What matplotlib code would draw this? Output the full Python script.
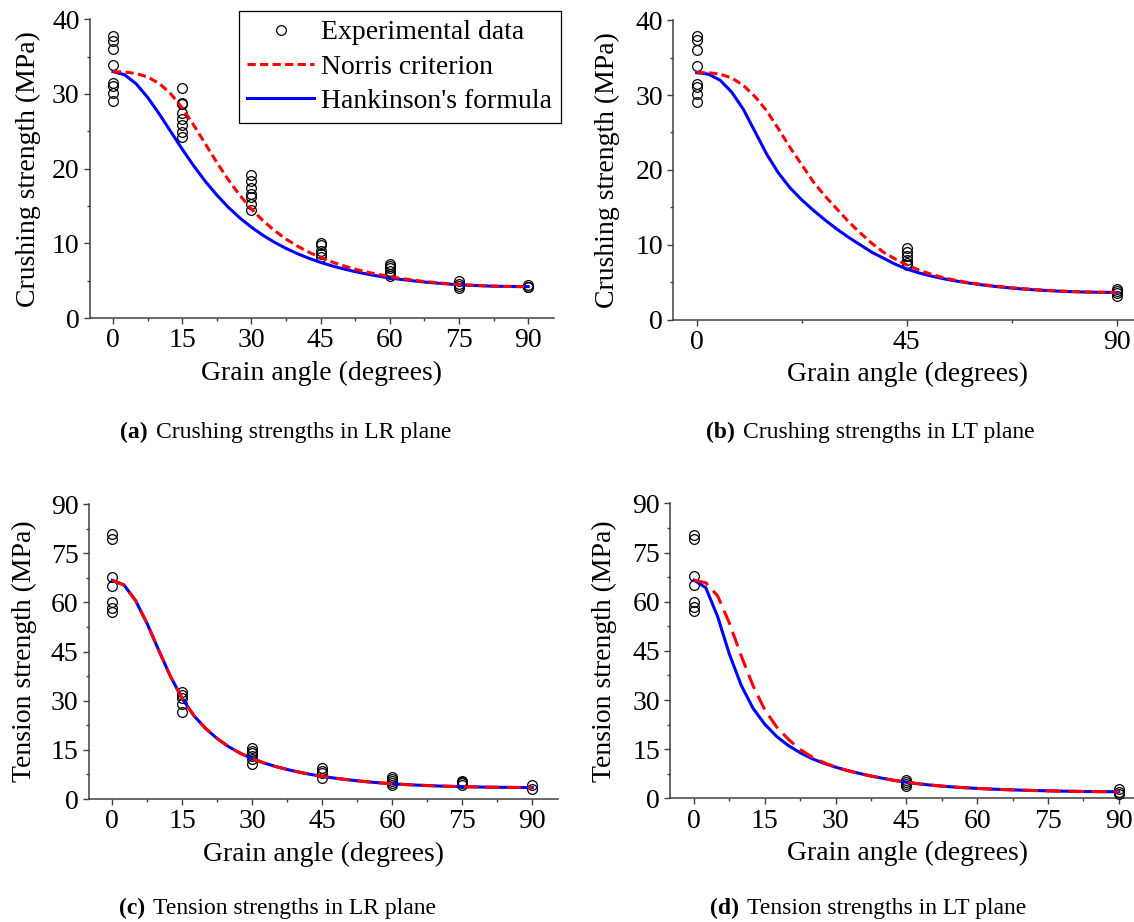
import matplotlib.pyplot as plt
from matplotlib.text import Annotation
from matplotlib.ticker import MultipleLocator

plt.rcParams['font.family'] = ['Liberation Serif', 'DejaVu Serif']

# measured strengths (MPa), one list per grain angle
crush_lr_angles = [0, 15, 30, 45, 60, 75, 90]
crush_lr_data = [
    [37.8, 37.1, 36.0, 33.9, 31.5, 31.1, 30.1, 29.1],
    [30.8, 28.8, 28.6, 27.4, 26.6, 25.8, 24.9, 24.3],
    [19.2, 18.4, 17.4, 16.6, 16.2, 15.3, 14.4],
    [10.1, 9.8, 9.0, 8.6, 8.2],
    [7.2, 7.0, 6.7, 6.3, 5.9, 5.6],
    [4.9, 4.6, 4.3, 4.0],
    [4.4, 4.2, 4.1],
]
crush_lt_angles = [0, 45, 90]
crush_lt_data = [
    [37.9, 37.3, 36.0, 33.9, 31.5, 31.1, 30.1, 29.1],
    [9.6, 9.0, 8.5, 8.0, 7.6, 7.3],
    [4.1, 3.8, 3.5, 3.2],
]
tens_lr_angles = [0, 15, 30, 45, 60, 75, 90]
tens_lr_data = [
    [80.7, 79.2, 67.8, 65.1, 60.0, 58.2, 57.1],
    [32.5, 31.7, 30.7, 29.0, 26.6],
    [15.5, 14.7, 13.9, 13.1, 12.1, 10.6],
    [9.4, 8.6, 7.9, 6.4],
    [6.6, 6.1, 5.6, 5.0, 4.4],
    [5.6, 5.2, 4.8, 4.2],
    [4.3, 3.0],
]
tens_lt_angles = [0, 45, 90]
tens_lt_data = [
    [80.4, 79.2, 67.9, 65.1, 59.9, 58.5, 57.2],
    [5.6, 5.1, 4.4, 3.8],
    [2.7, 2.0, 1.3],
]

# model curves every 2.5 degrees
curve_angles = [0, 2.5, 5, 7.5, 10, 12.5, 15, 17.5, 20, 22.5, 25, 27.5, 30, 32.5,
                35, 37.5, 40, 42.5, 45, 47.5, 50, 52.5, 55, 57.5, 60, 62.5, 65,
                67.5, 70, 72.5, 75, 77.5, 80, 82.5, 85, 87.5, 90]
crush_lr_norris = [33.0, 32.94, 32.74, 32.28, 31.42, 30.04, 28.14, 25.83, 23.33, 20.83,
                   18.51, 16.42, 14.6, 13.04, 11.71, 10.58, 9.62, 8.8, 8.1, 7.5, 6.99,
                   6.54, 6.16, 5.83, 5.54, 5.29, 5.08, 4.89, 4.74, 4.6, 4.49, 4.4,
                   4.33, 4.27, 4.23, 4.21, 4.2]
crush_lr_hank = [33.0, 32.58, 31.37, 29.55, 27.35, 24.98, 22.61, 20.37, 18.31, 16.47,
                 14.83, 13.4, 12.16, 11.08, 10.14, 9.32, 8.61, 7.99, 7.45, 6.98, 6.57,
                 6.21, 5.89, 5.61, 5.37, 5.16, 4.98, 4.82, 4.68, 4.56, 4.46, 4.38,
                 4.31, 4.26, 4.23, 4.21, 4.2]
crush_lt_norris = [33.0, 33.0, 32.8, 32.3, 31.3, 29.8, 27.9, 25.5, 23.0, 20.7, 18.4,
                   16.5, 14.8, 13.1, 11.6, 10.2, 9.0, 8.1, 7.3, 6.65, 6.1, 5.65, 5.3,
                   5.0, 4.78, 4.58, 4.4, 4.25, 4.12, 4.0, 3.9, 3.81, 3.75, 3.7, 3.66,
                   3.63, 3.62]
crush_lt_hank = [33.0, 32.8, 32.0, 30.4, 28.1, 25.1, 22.1, 19.6, 17.6, 16.0, 14.6,
                 13.3, 12.1, 11.0, 10.0, 9.0, 8.2, 7.4, 6.75, 6.25, 5.85, 5.5, 5.2,
                 4.95, 4.72, 4.52, 4.35, 4.2, 4.07, 3.96, 3.87, 3.79, 3.73, 3.68,
                 3.65, 3.63, 3.62]
tens_lr_norris = [66.7, 65.3, 60.5, 53.4, 45.2, 37.3, 30.6, 25.4, 21.5, 18.4, 15.9,
                  13.9, 12.3, 11.0, 9.9, 9.0, 8.2, 7.5, 6.9, 6.4, 5.95, 5.55, 5.2,
                  4.9, 4.65, 4.43, 4.25, 4.1, 3.97, 3.86, 3.77, 3.69, 3.62, 3.57,
                  3.54, 3.51, 3.5]
tens_lr_hank = [66.7, 65.3, 60.5, 53.4, 45.2, 37.3, 30.6, 25.4, 21.5, 18.4, 15.9,
                13.9, 12.3, 11.0, 9.9, 9.0, 8.2, 7.5, 6.9, 6.4, 5.95, 5.55, 5.2,
                4.9, 4.65, 4.43, 4.25, 4.1, 3.97, 3.86, 3.77, 3.69, 3.62, 3.57,
                3.54, 3.51, 3.5]
tens_lt_norris = [66.6, 65.8, 61.8, 53.5, 43.5, 34.4, 27.0, 21.8, 18.0, 14.9, 12.6,
                  10.9, 9.5, 8.45, 7.55, 6.8, 6.1, 5.45, 4.9, 4.45, 4.05, 3.72, 3.45,
                  3.22, 3.02, 2.85, 2.7, 2.57, 2.46, 2.36, 2.28, 2.2, 2.14, 2.09,
                  2.05, 2.02, 2.0]
tens_lt_hank = [66.6, 64.3, 55.5, 44.0, 34.5, 27.5, 22.6, 18.9, 16.1, 13.9, 12.1,
                10.7, 9.5, 8.5, 7.6, 6.8, 6.1, 5.45, 4.9, 4.45, 4.05, 3.72, 3.45,
                3.22, 3.02, 2.85, 2.7, 2.57, 2.46, 2.36, 2.28, 2.2, 2.14, 2.09,
                2.05, 2.02, 2.0]

W, H = 1134, 922
fig = plt.figure(figsize=(W / 100, H / 100), dpi=100)
axis_color = '#404040'
XMIN, XMAX = -5, 95.5


def px_rect(x0, deg_px, top, bottom):
    # x0: pixel of 0 degrees, deg_px: pixels per degree
    left = x0 + XMIN * deg_px
    right = x0 + XMAX * deg_px
    return [left / W, 1 - bottom / H, (right - left) / W, (bottom - top) / H]


def draw_panel(rect, angles, data, norris, hank, ymax, ymajor, xmajor, xminor,
               ylabel, dash, ylab_x):
    ax = fig.add_axes(rect)
    xs = [a for a, vals in zip(angles, data) for v in vals]
    ys = [v for vals in data for v in vals]
    ax.plot(xs, ys, 'o', ms=7, mfc='none', mec='black', mew=0.9, ls='none',
            label='Experimental data', zorder=3, clip_on=False)
    ax.plot(curve_angles, hank, color='blue', lw=2.2, label="Hankinson's formula", zorder=4)
    ax.plot(curve_angles, norris, color='red', lw=2.2, ls=(0, dash),
            label='Norris criterion', zorder=5)
    ax.set_xlim(XMIN, XMAX)
    ax.set_ylim(0, ymax)
    ax.set_xticks(list(range(0, 91, xmajor)))
    ax.xaxis.set_minor_locator(MultipleLocator(xminor))
    ax.yaxis.set_major_locator(MultipleLocator(ymajor))
    ax.yaxis.set_minor_locator(MultipleLocator(ymajor / 2))
    for side in ['top', 'right']:
        ax.spines[side].set_visible(False)
    for side in ['left', 'bottom']:
        ax.spines[side].set_color(axis_color)
        ax.spines[side].set_linewidth(1.1)
    ax.tick_params(which='major', length=4.5, width=1.0, color=axis_color,
                   labelsize=20, pad=3)
    ax.tick_params(which='minor', length=2.3, width=1.0, color=axis_color)
    ax.set_xlabel('Grain angle (degrees)', fontsize=20, labelpad=5)
    ax.set_ylabel(ylabel, fontsize=20)
    ax.yaxis.set_label_coords(ylab_x, 0.5)
    return ax


ax_a = draw_panel(px_rect(113, 4.613, 19.3, 318), crush_lr_angles, crush_lr_data,
                  crush_lr_norris, crush_lr_hank, 40, 10, 15, 7.5,
                  'Crushing strength (MPa)', (2.7, 1.4), -0.106)
ax_b = draw_panel(px_rect(696.7, 4.667, 20.3, 319.5), crush_lt_angles, crush_lt_data,
                  crush_lt_norris, crush_lt_hank, 40, 10, 45, 22.5,
                  'Crushing strength (MPa)', (2.7, 1.4), -0.113)
ax_c = draw_panel(px_rect(112.3, 4.667, 504, 799), tens_lr_angles, tens_lr_data,
                  tens_lr_norris, tens_lr_hank, 90, 15, 15, 7.5,
                  'Tension strength (MPa)', (4.5, 2.5), -0.11)
ax_d = draw_panel(px_rect(694, 4.72, 503.5, 798.3), tens_lt_angles, tens_lt_data,
                  tens_lt_norris, tens_lt_hank, 90, 15, 15, 7.5,
                  'Tension strength (MPa)', (5, 2.5), -0.113)

handles, labels = ax_a.get_legend_handles_labels()
order = [0, 2, 1]
leg = fig.legend([handles[i] for i in order], [labels[i] for i in order],
                 loc='upper right', bbox_to_anchor=(561 / W, 1 - 11 / H),
                 borderaxespad=0, fontsize=20, frameon=True, fancybox=False,
                 edgecolor='black', framealpha=1, handlelength=2.4,
                 handletextpad=0.25, labelspacing=0.32, borderpad=0.32)
leg.get_frame().set_linewidth(0.9)

# panel captions: bold tag followed by plain text
captions = [
    ('(a)', 'Crushing strengths in LR plane', 120, 432),
    ('(b)', 'Crushing strengths in LT plane', 706, 432),
    ('(c)', 'Tension strengths in LR plane', 119, 908),
    ('(d)', 'Tension strengths in LT plane', 710, 908),
]
for tag, text, x, y in captions:
    t = fig.text(x / W, 1 - y / H, tag, fontsize=17, fontweight='bold',
                 ha='left', va='center')
    fig.add_artist(Annotation(text, xy=(1, 0.5), xycoords=t, xytext=(6, 0),
                              textcoords='offset points', fontsize=17,
                              ha='left', va='center'))

fig.savefig('out.png', dpi=100)
